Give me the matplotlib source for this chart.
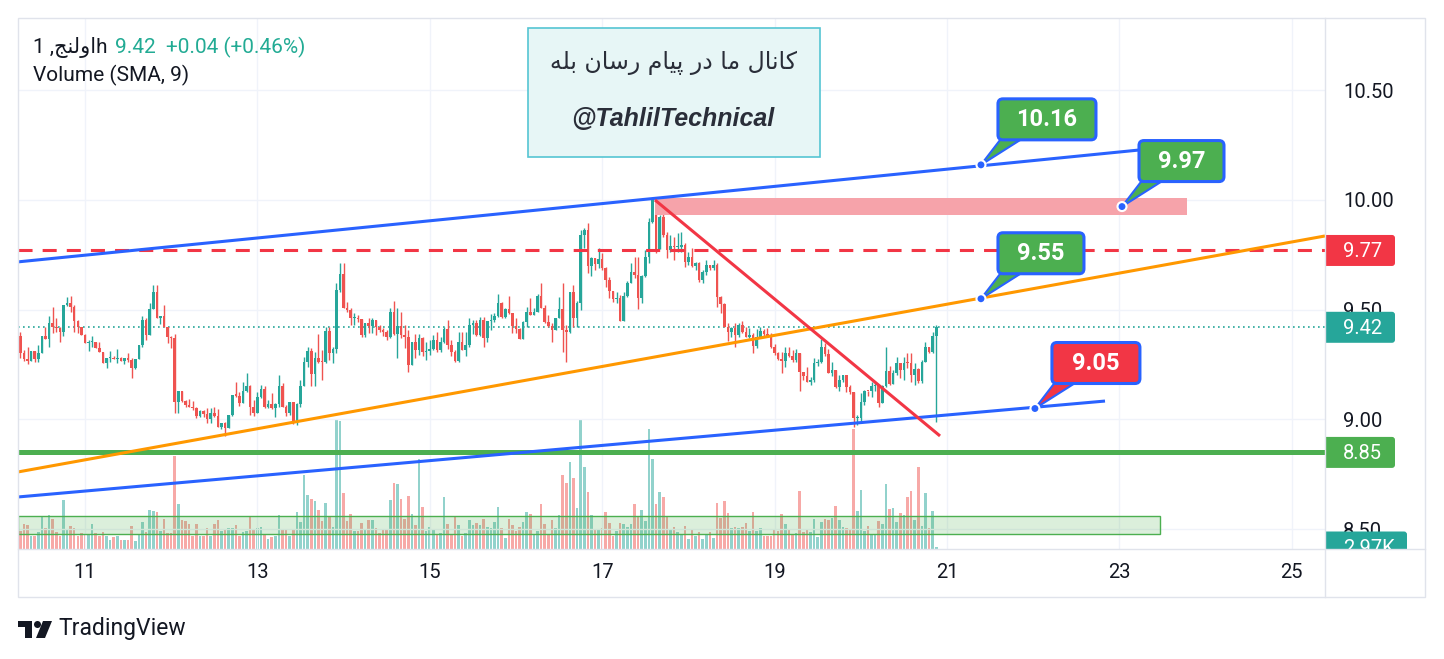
import numpy as np
import matplotlib
matplotlib.use("Agg")
import matplotlib.pyplot as plt
from matplotlib.patches import Rectangle, FancyBboxPatch, Polygon, Circle

plt.rcParams['font.family'] = ['Roboto', 'DejaVu Sans']

# ---- data: hourly candles, the first one at day 10, 06:00 ----
start_day = 10.25
first_open = 9.380
closes = [
    9.301, 9.274, 9.268, 9.312, 9.274, 9.301, 9.380, 9.368, 9.438, 9.420,
    9.418, 9.400, 9.521, 9.532, 9.511, 9.450, 9.420, 9.385, 9.350, 9.354,
    9.354, 9.327, 9.307, 9.259, 9.281, 9.281, 9.275, 9.280, 9.266, 9.278,
    9.271, 9.236, 9.274, 9.339, 9.453, 9.385, 9.502, 9.581, 9.461, 9.471,
    9.420, 9.377, 9.373, 9.081, 9.130, 9.084,
    9.066, 9.059, 9.051, 9.017, 9.039, 9.025, 9.002, 9.028, 9.017, 8.967,
    8.982, 8.960, 9.021, 9.112, 9.109, 9.077, 9.130, 9.152, 9.059, 9.028,
    9.104, 9.139, 9.059, 9.071, 9.051, 9.071, 9.153, 9.059, 9.028, 9.078,
    8.985, 9.070, 9.153, 9.260, 9.312, 9.207, 9.279, 9.264, 9.261, 9.403,
    9.301, 9.321, 9.590,
    9.663, 9.509, 9.499, 9.461, 9.464, 9.456, 9.385, 9.438, 9.425, 9.453,
    9.423, 9.408, 9.400, 9.377, 9.488, 9.388, 9.426, 9.385, 9.377, 9.248,
    9.351, 9.317, 9.370, 9.309, 9.312, 9.320, 9.362, 9.317, 9.351, 9.412,
    9.339, 9.309, 9.266, 9.351, 9.317, 9.339, 9.430, 9.438, 9.385, 9.453,
    9.370, 9.449, 9.453, 9.472, 9.532, 9.469, 9.503, 9.484, 9.428, 9.412,
    9.367, 9.443, 9.491, 9.476, 9.488, 9.563, 9.509, 9.446, 9.428, 9.408,
    9.461, 9.503, 9.408, 9.400, 9.579, 9.461, 9.532, 9.841, 9.863, 9.701,
    9.734, 9.707, 9.731, 9.689, 9.636, 9.585, 9.549, 9.555, 9.449, 9.563,
    9.623, 9.670, 9.658, 9.552, 9.654, 9.742,
    9.898, 10.000, 9.775, 9.924, 9.840, 9.772, 9.790, 9.787, 9.787, 9.795,
    9.719, 9.742, 9.699, 9.711, 9.636, 9.674, 9.704, 9.691, 9.704, 9.560,
    9.526, 9.423, 9.400, 9.415, 9.385, 9.430, 9.400, 9.377, 9.386, 9.335,
    9.377, 9.405, 9.389, 9.377, 9.329, 9.301,
    9.274, 9.268, 9.304, 9.289, 9.271, 9.301, 9.218, 9.198, 9.172, 9.180,
    9.256, 9.263, 9.330, 9.300, 9.213, 9.225, 9.150, 9.180, 9.203, 9.150,
    9.127, 9.005, 9.006, 9.081, 9.131, 9.128, 9.152, 9.157, 9.074, 9.153,
    9.222, 9.162, 9.213, 9.259, 9.226, 9.259, 9.257, 9.203, 9.228, 9.177,
    9.263, 9.329, 9.309, 9.380, 9.420,
]
highs = [
    9.400, 9.317, 9.329, 9.312, 9.312, 9.339, 9.380, 9.420, 9.471, 9.514,
    9.461, 9.423, 9.521, 9.559, 9.562, 9.521, 9.453, 9.420, 9.388, 9.362,
    9.380, 9.350, 9.354, 9.301, 9.281, 9.313, 9.289, 9.319, 9.286, 9.278,
    9.301, 9.281, 9.274, 9.339, 9.471, 9.461, 9.532, 9.613, 9.613, 9.471,
    9.521, 9.412, 9.380, 9.389, 9.130, 9.130,
    9.089, 9.092, 9.086, 9.059, 9.043, 9.043, 9.051, 9.054, 9.059, 9.047,
    8.985, 8.990, 9.021, 9.112, 9.169, 9.127, 9.172, 9.210, 9.157, 9.089,
    9.127, 9.157, 9.153, 9.089, 9.119, 9.074, 9.203, 9.165, 9.066, 9.081,
    9.081, 9.074, 9.180, 9.286, 9.329, 9.327, 9.309, 9.390, 9.317, 9.420,
    9.420, 9.332, 9.620,
    9.711, 9.711, 9.537, 9.506, 9.484, 9.476, 9.453, 9.438, 9.461, 9.464,
    9.453, 9.430, 9.415, 9.408, 9.506, 9.540, 9.506, 9.491, 9.430, 9.408,
    9.351, 9.388, 9.388, 9.377, 9.351, 9.362, 9.385, 9.400, 9.377, 9.423,
    9.453, 9.362, 9.317, 9.400, 9.400, 9.400, 9.464, 9.453, 9.453, 9.468,
    9.469, 9.449, 9.479, 9.484, 9.572, 9.534, 9.507, 9.564, 9.481, 9.461,
    9.418, 9.449, 9.514, 9.552, 9.507, 9.570, 9.620, 9.522, 9.476, 9.438,
    9.464, 9.560, 9.620, 9.431, 9.582, 9.613, 9.540, 9.863, 9.871, 9.894,
    9.742, 9.734, 9.780, 9.757, 9.696, 9.651, 9.585, 9.579, 9.567, 9.579,
    9.631, 9.711, 9.742, 9.742, 9.658, 9.772,
    9.917, 10.005, 10.000, 9.932, 9.947, 9.856, 9.841, 9.833, 9.851, 9.856,
    9.806, 9.765, 9.780, 9.719, 9.719, 9.681, 9.727, 9.704, 9.727, 9.712,
    9.563, 9.532, 9.441, 9.423, 9.438, 9.438, 9.450, 9.423, 9.415, 9.393,
    9.411, 9.423, 9.411, 9.415, 9.393, 9.344,
    9.309, 9.309, 9.332, 9.332, 9.317, 9.320, 9.279, 9.218, 9.241, 9.192,
    9.279, 9.274, 9.365, 9.350, 9.320, 9.260, 9.226, 9.203, 9.203, 9.195,
    9.157, 9.122, 9.020, 9.119, 9.134, 9.131, 9.172, 9.170, 9.150, 9.157,
    9.332, 9.244, 9.226, 9.286, 9.244, 9.283, 9.304, 9.301, 9.256, 9.233,
    9.271, 9.355, 9.332, 9.400, 9.432,
]
lows = [
    9.279, 9.268, 9.253, 9.268, 9.263, 9.263, 9.307, 9.368, 9.332, 9.392,
    9.400, 9.354, 9.382, 9.519, 9.491, 9.400, 9.392, 9.385, 9.350, 9.313,
    9.329, 9.324, 9.307, 9.259, 9.233, 9.263, 9.275, 9.259, 9.266, 9.253,
    9.263, 9.190, 9.228, 9.274, 9.329, 9.362, 9.385, 9.502, 9.461, 9.433,
    9.420, 9.350, 9.324, 9.031, 9.031, 9.081,
    9.059, 9.055, 9.043, 9.005, 9.013, 9.013, 8.983, 8.983, 9.013, 8.964,
    8.958, 8.925, 8.960, 9.016, 9.104, 9.062, 9.081, 9.127, 9.021, 9.016,
    9.028, 9.096, 9.054, 9.051, 9.047, 9.013, 9.059, 9.055, 9.017, 9.021,
    8.980, 8.975, 9.055, 9.153, 9.241, 9.154, 9.154, 9.256, 9.180, 9.256,
    9.271, 9.256, 9.301,
    9.582, 9.506, 9.491, 9.430, 9.430, 9.446, 9.377, 9.377, 9.392, 9.392,
    9.385, 9.400, 9.382, 9.362, 9.373, 9.385, 9.282, 9.373, 9.324, 9.215,
    9.248, 9.279, 9.294, 9.291, 9.271, 9.294, 9.317, 9.309, 9.309, 9.347,
    9.321, 9.291, 9.263, 9.263, 9.317, 9.291, 9.332, 9.388, 9.382, 9.382,
    9.332, 9.355, 9.408, 9.446, 9.469, 9.461, 9.461, 9.479, 9.393, 9.393,
    9.367, 9.367, 9.423, 9.476, 9.476, 9.499, 9.507, 9.438, 9.423, 9.355,
    9.408, 9.469, 9.309, 9.263, 9.393, 9.423, 9.423, 9.499, 9.780, 9.666,
    9.654, 9.681, 9.689, 9.681, 9.605, 9.555, 9.534, 9.529, 9.449, 9.449,
    9.560, 9.620, 9.643, 9.503, 9.529, 9.651,
    9.712, 9.894, 9.757, 9.806, 9.833, 9.734, 9.765, 9.727, 9.765, 9.765,
    9.693, 9.704, 9.693, 9.681, 9.628, 9.623, 9.658, 9.681, 9.681, 9.514,
    9.484, 9.423, 9.359, 9.377, 9.332, 9.377, 9.396, 9.374, 9.370, 9.304,
    9.326, 9.370, 9.377, 9.374, 9.324, 9.294,
    9.270, 9.210, 9.241, 9.283, 9.263, 9.263, 9.131, 9.180, 9.172, 9.157,
    9.172, 9.244, 9.259, 9.290, 9.210, 9.200, 9.142, 9.131, 9.172, 9.127,
    9.116, 8.967, 8.975, 8.983, 9.066, 9.107, 9.101, 9.130, 9.055, 9.074,
    9.150, 9.157, 9.162, 9.203, 9.188, 9.180, 9.233, 9.172, 9.157, 9.168,
    9.165, 9.263, 9.301, 9.301, 8.990,
]
volumes_k = [
    27.5, 38, 36.5, 20, 20, 26, 49, 32, 51.5, 45.5,
    26, 20, 74, 30.5, 35, 32, 20, 24.5, 21.5, 21.5,
    38, 24.5, 20, 26, 20, 14, 18.5, 20, 14, 14,
    14, 35, 12.5, 23, 41, 26, 59, 57.5, 56, 27.5,
    45.5, 24.5, 24.5, 140, 68, 44, 42.5, 38, 20, 38,
    20, 20, 32, 20, 38, 44, 27.5, 30.5, 32, 32,
    36.5, 20, 26, 27.5, 48.5, 29, 32, 33.5, 21.5, 15.5,
    18.5, 20, 51.5, 29, 29, 20, 29, 56, 41, 111.5,
    81.5, 75.5, 72.5, 59, 42.5, 69.5, 48.5, 33.5, 194, 192,
    84.5, 42.5, 53, 27.5, 27.5, 39.5, 29, 44, 44, 32,
    24.5, 29, 29, 74, 99.5, 98, 75.5, 45.5, 80, 53,
    36.5, 135.5, 63.5, 27.5, 33.5, 30.5, 21.5, 24.5, 78.5, 38,
    23, 48.5, 36.5, 20, 24.5, 44, 36.5, 39.5,
    35.5, 45, 32.5, 31, 40, 62.5, 31, 16, 44.5, 35.5,
    26.5, 32.5, 40, 55, 52, 22, 26.5, 67, 37, 20.5,
    43, 31, 50.5, 110.5, 98.5, 130, 106, 61, 194, 122.5,
    85, 50.5, 29.5, 28, 31, 55, 38.5, 19, 26.5, 38.5,
    37, 32.5, 37, 67, 49, 58, 41.5, 179.5, 134.5, 67,
    85, 77.5, 47.5, 29.5, 32.5, 25, 20.5, 34, 14.5, 28,
    19, 25, 14.5, 20.5, 25, 16, 68.5, 46, 71.5, 53.5,
    31, 32.5, 31, 32.5, 38.5, 26.5, 55, 26.5, 31, 19,
    19, 19, 29.5, 26.5, 52, 37, 29.5, 22, 23.5, 86.5,
    25, 28, 25, 44.5, 17.5, 40, 44.5, 43, 46, 64,
    43, 32.5, 31, 28, 180, 56.5, 88, 26.5, 34, 22,
    20.5, 41.5, 37, 97, 59.5, 61, 40, 53.5, 50.5, 77.5,
    86.5, 43, 122.5, 34, 83.5, 31, 56.5, 3,
]

day_ticks = [11, 13, 15, 17, 19, 21, 23, 25]
price_ticks = [8.5, 9.0, 9.5, 10.0, 10.5]
x_view = [10.223, 25.385]
y_view = [8.410, 10.829]

# user drawings, (day, price)
channel_top = [(10.223, 9.718), (23.239, 10.228)]
channel_bottom = [(10.223, 8.647), (22.833, 9.084)]
orange_trend = [(10.223, 8.761), (25.385, 9.836)]
red_trend = [(17.612, 10.0), (20.919, 8.925)]
resistance = 9.77
support = 8.85
last_price = 9.42
last_volume_label = '2.97K'
supply_zone = [17.612, 23.78, 9.932, 10.009]
volume_zone = [10.223, 23.47, 8.478, 8.560]
callout_prices = [10.16, 9.97, 9.55, 9.05]
callout_days = [21.394, 23.03, 21.394, 22.02]
callout_colors = ['#4caf50', '#4caf50', '#4caf50', '#f23645']
callout_widths = [98, 85, 86, 88]

# header / caption text (Persian)
symbol_name = '\u0627\u0648\u0644\u0646\u062c'
channel_line = ('\u06a9\u0627\u0646\u0627\u0644 \u0645\u0627 \u062f\u0631 '
                '\u067e\u06cc\u0627\u0645 \u0631\u0633\u0627\u0646 \u0628\u0644\u0647')

TEAL = '#26a69a'
RED = '#ef5350'
BLUE = '#2962ff'
TXT = '#131722'
W, H = 1444, 659
PL, PR, PT, PB = 18, 1325, 18, 549

# matplotlib does no Arabic shaping, so pick the contextual forms by hand
FORMS = {
    '\u0627': ('\ufe8d', '\ufe8e', None, None),
    '\u0648': ('\ufeed', '\ufeee', None, None),
    '\u062f': ('\ufea9', '\ufeaa', None, None),
    '\u0631': ('\ufead', '\ufeae', None, None),
    '\u0644': ('\ufedd', '\ufede', '\ufedf', '\ufee0'),
    '\u0646': ('\ufee5', '\ufee6', '\ufee7', '\ufee8'),
    '\u062c': ('\ufe9d', '\ufe9e', '\ufe9f', '\ufea0'),
    '\u0645': ('\ufee1', '\ufee2', '\ufee3', '\ufee4'),
    '\u0633': ('\ufeb1', '\ufeb2', '\ufeb3', '\ufeb4'),
    '\u0628': ('\ufe8f', '\ufe90', '\ufe91', '\ufe92'),
    '\u0647': ('\ufee9', '\ufeea', '\ufeeb', '\ufeec'),
    '\u067e': ('\ufb56', '\ufb57', '\ufb58', '\ufb59'),
    '\u06a9': ('\ufb8e', '\ufb8f', '\ufb90', '\ufb91'),
    '\u06cc': ('\ufbfc', '\ufbfd', '\ufbfe', '\ufbff'),
}


def rtl(text):
    out = []
    for i, ch in enumerate(text):
        if ch not in FORMS:
            out.append(ch)
            continue
        prev = text[i - 1] if i > 0 else ''
        nxt = text[i + 1] if i + 1 < len(text) else ''
        join_prev = prev in FORMS and FORMS[prev][2] is not None
        join_next = nxt in FORMS and FORMS[ch][2] is not None
        iso, fin, ini, med = FORMS[ch]
        if join_prev and join_next:
            out.append(med)
        elif join_prev:
            out.append(fin)
        elif join_next:
            out.append(ini)
        else:
            out.append(iso)
    return ''.join(reversed(out))


def px_x(d):
    return PL + (d - x_view[0]) / (x_view[1] - x_view[0]) * (PR - PL)


def px_y(p):
    return PT + (y_view[1] - p) / (y_view[1] - y_view[0]) * (PB - PT)


fig = plt.figure(figsize=(W / 100, H / 100), dpi=100)
rect = [PL / W, 1 - PB / H, (PR - PL) / W, (PB - PT) / H]

# volume pane underneath
axv = fig.add_axes(rect, zorder=1)
ax = fig.add_axes(rect, zorder=2, sharex=axv)
ax.patch.set_visible(False)

n = len(closes)
t = start_day + np.arange(n) / 24
c = np.array(closes)
o = np.r_[first_open, c[:-1]]
hi = np.maximum(np.array(highs), np.maximum(o, c))
lo = np.minimum(np.array(lows), np.minimum(o, c))
up = c >= o
col = np.where(up, TEAL, RED)

axv.bar(t, volumes_k, width=0.03, color=np.where(up, '#92d2cc', '#f7a9a7'), linewidth=0)
axv.set_ylim(0, (PB - PT) * 1.5)
axv.set_yticks([])
for s in axv.spines.values():
    s.set_visible(False)
axv.tick_params(axis='x', length=0, labelbottom=False)

ax.set_xlim(*x_view)
ax.set_ylim(*y_view)
ax.set_xticks(day_ticks)
ax.set_xticklabels([str(d) for d in day_ticks])
ax.set_yticks(price_ticks)
ax.set_yticklabels([f'{p:.2f}' for p in price_ticks])
ax.yaxis.tick_right()
ax.tick_params(axis='x', length=0, labelsize=14.5, colors=TXT, pad=10)
ax.tick_params(axis='y', length=0, labelsize=14.5, colors=TXT, pad=13)
ax.grid(color='#f0f3fa', lw=1)
ax.set_axisbelow(True)
for s in ax.spines.values():
    s.set_visible(False)

# candles
ax.vlines(t, lo, hi, colors=col, lw=1, zorder=3)
ax.bar(t, np.maximum(np.abs(c - o), 0.005), bottom=np.minimum(o, c), width=0.03,
       color=col, linewidth=0, zorder=3)

# drawings
ax.axhline(last_price, color=TEAL, lw=1.2, ls=(0, (1, 2)), zorder=2)
ax.add_patch(Rectangle((volume_zone[0], volume_zone[2]), volume_zone[1] - volume_zone[0],
                       volume_zone[3] - volume_zone[2], facecolor=(0.30, 0.69, 0.31, 0.2),
                       edgecolor='#4caf50', lw=1, zorder=4))
ax.add_patch(Rectangle((supply_zone[0], supply_zone[2]), supply_zone[1] - supply_zone[0],
                       supply_zone[3] - supply_zone[2], facecolor='#f6a3aa',
                       edgecolor='none', zorder=4))
ax.axhline(resistance, color='#f23645', lw=2.2, dashes=(4.6, 3.3), zorder=5)
ax.axhline(support, color='#4caf50', lw=3.6, zorder=5)
for pts, colr in [(channel_top, BLUE), (channel_bottom, BLUE),
                  (orange_trend, '#ff9800'), (red_trend, '#f23645')]:
    ax.plot([pts[0][0], pts[1][0]], [pts[0][1], pts[1][1]], color=colr, lw=2.2,
            solid_capstyle='butt', zorder=6)

# price scale tags
tag = fig.add_axes([PR / W, 1 - PB / H, 100 / W, (PB - PT) / H], zorder=4)
tag.set_xlim(0, 100)
tag.set_ylim(PB, PT)
tag.axis('off')
vol_tag_y = PB - volumes_k[-1] / 1.5
tags = [(px_y(resistance), f'{resistance:.2f}', '#f23645', 70),
        (px_y(last_price), f'{last_price:.2f}', TEAL, 70),
        (px_y(support), f'{support:.2f}', '#4caf50', 70),
        (vol_tag_y, last_volume_label, TEAL, 82)]
for y, label, colr, w in tags:
    tag.add_patch(FancyBboxPatch((-4, y - 15.5), w + 4, 31,
                                 boxstyle='round,pad=0,rounding_size=3',
                                 facecolor=colr, edgecolor='none'))
    tag.text(18, y + 1, label, color='white', fontsize=14.5, va='center', ha='left')

# pixel overlay for frame, header, notes and callouts
ov = fig.add_axes([0, 0, 1, 1], zorder=6)
ov.set_xlim(0, W)
ov.set_ylim(H, 0)
ov.axis('off')
frame = '#e0e3eb'
ov.add_patch(Rectangle((PL, PT), 1425 - PL, 597 - PT, fill=False, edgecolor=frame, lw=1))
ov.plot([PR, PR], [PT, 597], color=frame, lw=1)
ov.plot([PL, 1425], [PB, PB], color=frame, lw=1)

ov.text(33, 47, '1 ,' + rtl(symbol_name) + 'h', fontsize=15, color=TXT, va='center')
ov.text(115, 47, f'{last_price:.2f}  +0.04 (+0.46%)', fontsize=15, color='#22ab94',
        va='center')
ov.text(33, 75, 'Volume (SMA, 9)', fontsize=15, color=TXT, va='center')

ov.add_patch(Rectangle((528, 28), 292, 129, facecolor='#e7f6f6', edgecolor='#55c5d3', lw=1.2))
ov.text(674, 63, rtl(channel_line), fontsize=17, color='#2a2e39', ha='center',
        va='center', family=['DejaVu Sans'])
ov.text(673, 119, '@TahlilTechnical', fontsize=18, color='#2a2e39', ha='center',
        va='center', family=['Liberation Sans'], fontweight='bold', fontstyle='italic')

for p, d, colr, w in zip(callout_prices, callout_days, callout_colors, callout_widths):
    x0, y0 = px_x(d), px_y(p)
    left, top = x0 + 17, y0 - 66
    ov.add_patch(Polygon([(left + 3, top + 40), (left + 24, top + 40), (x0, y0)],
                         closed=True, facecolor=colr, edgecolor=BLUE, lw=1.5))
    ov.add_patch(FancyBboxPatch((left, top), w, 41, boxstyle='round,pad=0,rounding_size=5',
                                facecolor=colr, edgecolor=BLUE, lw=2.2))
    ov.text(left + w / 2, top + 21, f'{p:.2f}', color='white', fontsize=17,
            fontweight='bold', ha='center', va='center')
    ov.add_patch(Circle((x0, y0), 4.5, facecolor=BLUE, edgecolor='white', lw=1.5))

# TradingView logo
ov.add_patch(Rectangle((18, 621), 14, 6, facecolor=TXT, edgecolor='none'))
ov.add_patch(Rectangle((25, 621), 7, 17, facecolor=TXT, edgecolor='none'))
ov.add_patch(Circle((37.5, 624.5), 3.5, facecolor=TXT, edgecolor='none'))
ov.add_patch(Polygon([(43, 621), (52, 621), (45, 638), (36, 638)], closed=True,
                     facecolor=TXT, edgecolor='none'))
ov.text(58, 629, 'TradingView', fontsize=16.5, color=TXT, va='center')

fig.savefig('out.png', dpi=100)
